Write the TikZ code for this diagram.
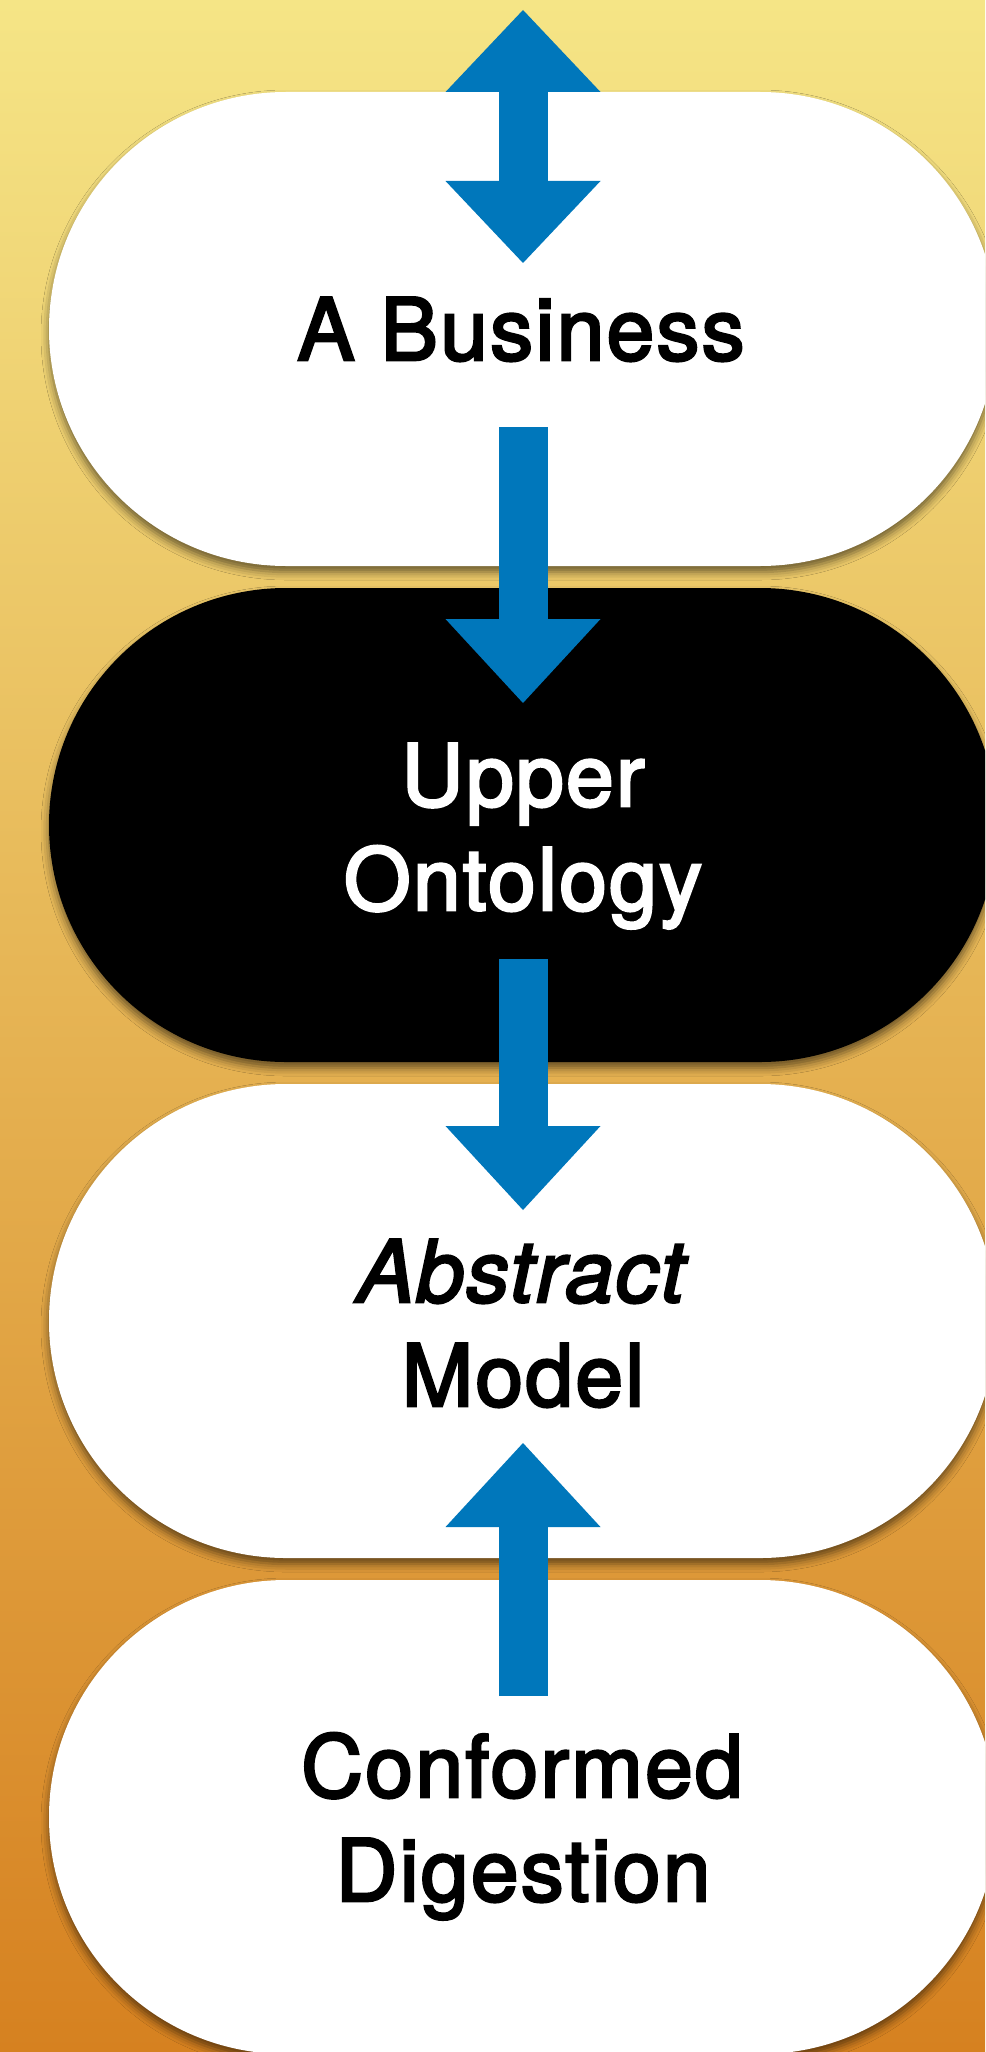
\documentclass[tikz,border=0pt]{standalone}
\usepackage{fontspec}
\setmainfont{TeX Gyre Heros}
\newfontfamily\captionfont{TeX Gyre Heros}[FakeBold=3,LetterSpace=2.5]
\usetikzlibrary{arrows.meta,shapes.misc,shadows.blur,calc}
\definecolor{bgtop}{RGB}{245,229,134}
\definecolor{bgbot}{RGB}{214,129,32}
\definecolor{flow}{RGB}{0,119,187}
\begin{document}
\begin{tikzpicture}[x=1pt,y=-1pt,
  pill/.style={rounded rectangle, minimum width=948pt, minimum height=474pt,
    inner sep=0pt, fill=white,
    blur shadow={shadow xshift=0pt, shadow yshift=-6pt,
      shadow blur radius=8pt, shadow opacity=55}},
  lbl/.style={anchor=base, inner sep=0pt,
    font=\captionfont\fontsize{86}{104}\selectfont},
  flowarrow/.style={draw=flow, line width=49pt,
    -{Triangle[length=84pt,width=155pt,line width=0pt]}},
  flowboth/.style={draw=flow, line width=49pt,
    {Triangle[length=82pt,width=155pt,line width=0pt]}-{Triangle[length=82pt,width=155pt,line width=0pt]}},
]
\path[use as bounding box] (0,0) rectangle (985,2052);
\clip (0,0) rectangle (985,2052);
% warm vertical backdrop
\shade[top color=bgtop, bottom color=bgbot] (0,0) rectangle (985,2052);

% the four stages
\node[pill] (b1) at (523,329) {};
\node[pill, fill=black] (b2) at (523,825) {};
\node[pill] (b3) at (523,1321) {};
\node[pill] (b4) at (523,1817) {};

% stage captions
\node[lbl] (t1) at (521,360) {A Business};
\node[lbl, text=white] (t2a) at (523,806) {Upper};
\node[lbl, text=white] (t2b) at (523,910) {Ontology};
\node[lbl] (t3a) at (521,1302) {\itshape Abstract};
\node[lbl] (t3b) at (523,1406) {Model};
\node[lbl] (t4a) at (522,1797) {Conformed};
\node[lbl] (t4b) at (523,1901) {Digestion};

% arrow end points
\coordinate (a1s) at ($(b1.center)+(0,-319)$);
\coordinate (a1e) at ($(b1.center)+(0,-66)$);
\coordinate (a2s) at ($(b1.center)+(0,98)$);
\coordinate (a2e) at ($(b2.center)+(0,-122)$);
\coordinate (a3s) at ($(b2.center)+(0,134)$);
\coordinate (a3e) at ($(b3.center)+(0,-111)$);
\coordinate (a4s) at ($(b4.center)+(0,-121)$);
\coordinate (a4e) at ($(b3.center)+(0,122)$);

% flow arrows
\draw[flowboth] (a1s) -- (a1e);
\draw[flowarrow] (a2s) -- (a2e);
\draw[flowarrow] (a3s) -- (a3e);
\draw[flowarrow] (a4s) -- (a4e);
\end{tikzpicture}
\end{document}
